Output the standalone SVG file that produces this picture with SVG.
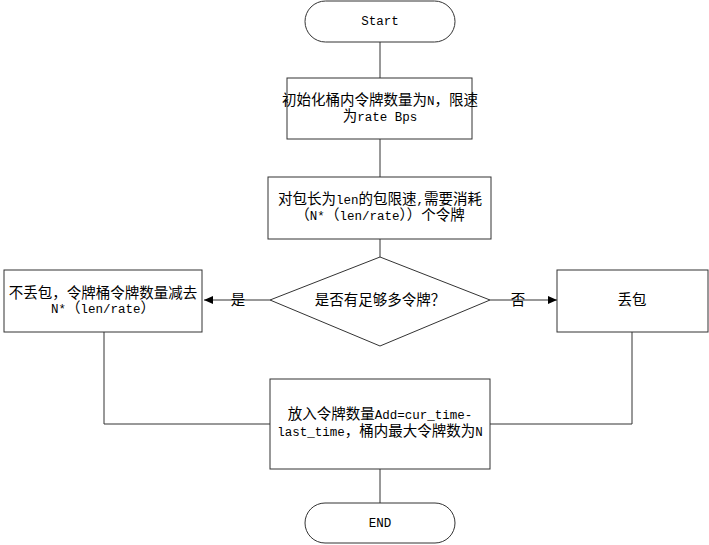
<svg xmlns="http://www.w3.org/2000/svg" width="709" height="545" viewBox="0 0 709 545">
<defs>
<style>
.s{fill:#fff;stroke:#333;stroke-width:1}
.c{fill:none;stroke:#333;stroke-width:1}
text{font-family:"Noto Sans CJK SC","Noto Sans CJK JP",sans-serif;font-size:14.5px;fill:#000;text-anchor:middle}
.l{font-family:"Liberation Mono",monospace;font-size:12.5px}
</style>
<marker id="a" markerWidth="10" markerHeight="8" refX="9" refY="4" orient="auto" markerUnits="userSpaceOnUse">
<path d="M0,0 L9,4 L0,8 Z" fill="#000"/>
</marker>
</defs>
<rect width="709" height="545" fill="#fff"/>
<g id="connectors">
<path class="c" d="M380,42 V78"/>
<path class="c" d="M380,139 V177"/>
<path class="c" d="M380,239 V257"/>
<path class="c" d="M270,300 H204" marker-end="url(#a)"/>
<path class="c" d="M490,300 H557" marker-end="url(#a)"/>
<path class="c" d="M104,332 V424 H270"/>
<path class="c" d="M632,332 V424 H490"/>
<path class="c" d="M380,469 V503"/>
<text x="238" y="305">是</text>
<text x="518" y="305">否</text>
</g>
<g id="start">
<rect class="s" x="305" y="1" width="150" height="41" rx="20.5"/>
<text x="380" y="25"><tspan class="l" font-size="13px">Start</tspan></text>
</g>
<g id="init">
<rect class="s" x="287" y="78" width="185" height="61"/>
<text x="380" y="105">初始化桶内令牌数量为<tspan class="l">N</tspan>，限速</text>
<text x="380" y="121">为<tspan class="l">rate Bps</tspan></text>
</g>
<g id="consume">
<rect class="s" x="268" y="177" width="223" height="62"/>
<text x="380" y="204">对包长为<tspan class="l">len</tspan>的包限速<tspan class="l">,</tspan>需要消耗</text>
<text x="380" y="220">（<tspan class="l">N*</tspan>（<tspan class="l">len/rate</tspan>））个令牌</text>
</g>
<g id="decision">
<polygon class="s" points="380,257 490,300 380,346 270,300"/>
<text x="380" y="305">是否有足够多令牌？</text>
</g>
<g id="keep">
<rect class="s" x="4" y="270" width="198" height="62"/>
<text x="103" y="298">不丢包，令牌桶令牌数量减去</text>
<text x="103" y="313"><tspan class="l">N*</tspan>（<tspan class="l">len/rate</tspan>）</text>
</g>
<g id="drop">
<rect class="s" x="557" y="270" width="151" height="62"/>
<text x="632" y="305">丢包</text>
</g>
<g id="add">
<rect class="s" x="270" y="379" width="220" height="90"/>
<text x="380" y="419">放入令牌数量<tspan class="l">Add=cur_time-</tspan></text>
<text x="380" y="436"><tspan class="l">last_time</tspan>，桶内最大令牌数为<tspan class="l">N</tspan></text>
</g>
<g id="end">
<rect class="s" x="305" y="503" width="150" height="40" rx="20"/>
<text x="380" y="527"><tspan class="l" font-size="13px">END</tspan></text>
</g>
</svg>
